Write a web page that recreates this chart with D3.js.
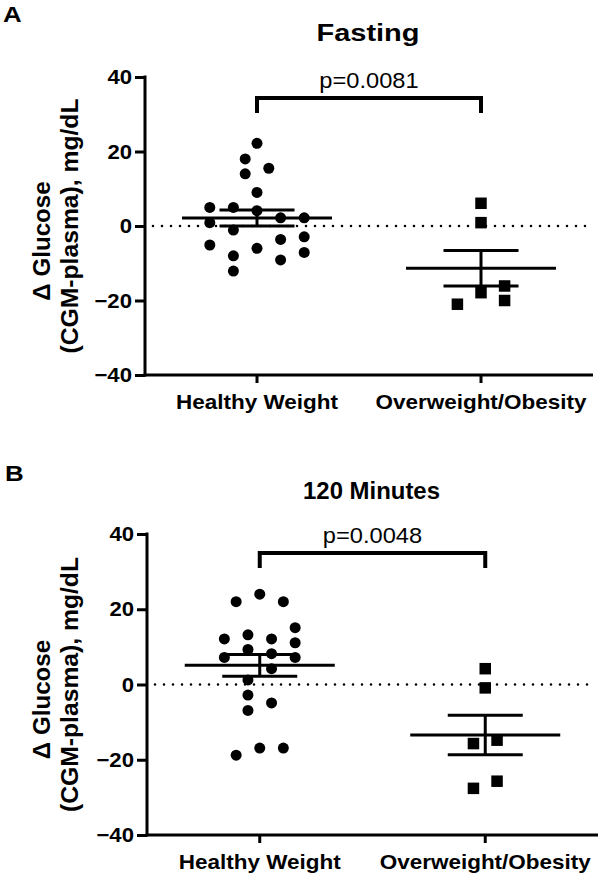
<!DOCTYPE html>
<html>
<head>
<meta charset="utf-8">
<script src="https://cdn.jsdelivr.net/npm/d3@7"></script>
<style>
  body { margin: 0; background: #fff; }
  svg { display: block; font-family: "Liberation Sans", Arial, sans-serif; }
</style>
</head>
<body>
<div class="container"></div>
<script>
// groups on the x axis
var groups = ["Healthy Weight", "Overweight/Obesity"];
var yTicks = [-40, -20, 0, 20, 40];

// panel A, fasting (values in mg/dL)
var fastHealthy = [22.2, 18, 15.5, 14, 9, 5, 5, 4.1, 2.2, 2.2, 0.9, -1.1, -5.1, -2.9, -3.6, -6, -7.1, -8, -9.1, -12.1];
var fastHealthySlot = [0, -1, 1, -1, 0, -4, -2, 0, 2, 4, -4, -2, -4, 4, 2, 0, 4, -2, 2, -2];
var fastOver = [6.1, 0.9, -17.9, -16.1, -20, -21];
var fastOverSlot = [0, 0, 0, 2, 2, -2];

// panel B, 120 minutes
var minHealthy = [22, 24, 22, 15.1, 12.1, 13.2, 12.1, 11.1, 9.3, 8.2, 7.2, 7.2, 4.2, 1.2, -2.8, -4.9, -6.9, -16.9, -16.9, -18.8];
var minHealthySlot = [-2, 0, 2, 3, -3, -1, 1, 3, -1, 1, -3, 3, 1, -1, -1, 1, -1, 0, 2, -2];
var minOver = [4.2, -0.9, -15.7, -14.8, -25.7, -27.6];
var minOverSlot = [0, 0, -1, 1, 1, -1];

var titles = ["Fasting", "120 Minutes"];
var pValues = ["p=0.0081", "p=0.0048"];
var panelLetters = ["A", "B"];

const WIDTH = 600;
const HEIGHT = 873;
const SLOT = 11.8;

var svg = d3.select('.container').append('svg')
  .attr('width', WIDTH)
  .attr('height', HEIGHT);

var translate = function(x, y){
  return "translate(" + x + "," + y + ")";
};

// the source figure's lettering is a bit wider than Arial, stretch it
var stretch = function(sel, k){
  sel.each(function(){
    var w = this.getComputedTextLength();
    d3.select(this).attr('textLength', w * k).attr('lengthAdjust', 'spacingAndGlyphs');
  });
};

var drawPanel = function(opt){
  var g = svg.append('g');

  var yScale = d3.scaleLinear().domain([-40, 40]).range([opt.bottom, opt.top]);
  var xScale = d3.scaleBand().domain(groups).range([opt.left, opt.right]);
  var cx = function(name){ return xScale(name) + xScale.bandwidth() / 2; };

  // y axis
  var yAxis = d3.axisLeft(yScale).tickValues(yTicks).tickSize(10).tickSizeOuter(0).tickPadding(3);
  var ya = g.append('g').attr('transform', translate(opt.left, 0)).call(yAxis);
  ya.select('.domain').attr('stroke-width', 3).attr('d', 'M0,' + (opt.bottom + 1.5) + 'V' + (opt.top - 1.5));
  ya.selectAll('.tick line').attr('stroke-width', 3);
  ya.selectAll('.tick text')
    .attr('font-size', 20.5).attr('font-weight', 'bold').attr('fill', '#000')
    .attr('font-family', '"Liberation Sans", Arial, sans-serif')
    .call(stretch, 1.08);

  // x axis
  var xAxis = d3.axisBottom(xScale).tickSize(8).tickSizeOuter(0);
  var xa = g.append('g').attr('transform', translate(0, opt.bottom)).call(xAxis);
  xa.select('.domain').attr('stroke-width', 3).attr('d', 'M' + (opt.left - 1.5) + ',0H' + opt.right);
  xa.selectAll('.tick line').attr('stroke-width', 3);
  xa.selectAll('.tick text')
    .attr('y', 34).attr('dy', 0)
    .attr('font-size', 21).attr('font-weight', 'bold').attr('fill', '#000')
    .attr('font-family', '"Liberation Sans", Arial, sans-serif')
    .call(stretch, 1.07);

  // zero reference line
  g.append('line')
    .attr('x1', opt.left + 8).attr('x2', opt.right - 4)
    .attr('y1', yScale(0)).attr('y2', yScale(0))
    .attr('stroke', '#000').attr('stroke-width', 2.6)
    .attr('stroke-linecap', 'round').attr('stroke-dasharray', '0,9');

  // points
  var healthy = opt.healthy.map(function(v, i){ return {v: v, s: opt.healthySlot[i]}; });
  var over = opt.over.map(function(v, i){ return {v: v, s: opt.overSlot[i]}; });

  g.selectAll('circle.pt').data(healthy).enter().append('circle')
    .attr('class', 'pt')
    .attr('cx', function(d){ return cx(groups[0]) + d.s * SLOT; })
    .attr('cy', function(d){ return yScale(d.v); })
    .attr('r', 5.5).attr('fill', '#000');

  var sq = 11.5;
  g.selectAll('rect.pt').data(over).enter().append('rect')
    .attr('class', 'pt')
    .attr('x', function(d){ return cx(groups[1]) + d.s * SLOT - sq / 2; })
    .attr('y', function(d){ return yScale(d.v) - sq / 2; })
    .attr('width', sq).attr('height', sq).attr('fill', '#000');

  // mean +/- SEM
  [opt.healthy, opt.over].forEach(function(vals, i){
    var m = d3.mean(vals);
    var sem = d3.deviation(vals) / Math.sqrt(vals.length);
    var x = cx(groups[i]);
    var lines = [
      [x - 75, m, x + 75, m],
      [x - 37.5, m + sem, x + 37.5, m + sem],
      [x - 37.5, m - sem, x + 37.5, m - sem],
      [x, m - sem, x, m + sem]
    ];
    g.selectAll(null).data(lines).enter().append('line')
      .attr('x1', function(d){ return d[0]; })
      .attr('x2', function(d){ return d[2]; })
      .attr('y1', function(d){ return yScale(d[1]); })
      .attr('y2', function(d){ return yScale(d[3]); })
      .attr('stroke', '#000').attr('stroke-width', 3);
  });

  // significance bracket
  var bx1 = cx(groups[0]), bx2 = cx(groups[1]);
  g.append('path')
    .attr('d', 'M' + bx1 + ',' + opt.bracketLeg + 'V' + opt.bracketY + 'H' + bx2 + 'V' + opt.bracketLeg)
    .attr('fill', 'none').attr('stroke', '#000').attr('stroke-width', 4);
  g.append('text')
    .attr('x', (bx1 + bx2) / 2).attr('y', opt.bracketY - 10)
    .attr('text-anchor', 'middle').attr('font-size', 21.5)
    .text(opt.p)
    .call(stretch, 1.1);

  // title
  g.append('text')
    .attr('x', (bx1 + bx2) / 2 - 1).attr('y', opt.titleY)
    .attr('text-anchor', 'middle').attr('font-size', 23).attr('font-weight', 'bold')
    .text(opt.title)
    .call(stretch, opt.titleStretch);

  // panel letter
  g.append('text')
    .attr('x', opt.letterX).attr('y', opt.letterY)
    .attr('font-size', 22.5).attr('font-weight', 'bold')
    .text(opt.letter)
    .call(stretch, 1.15);

  // y label, two lines
  var mid = yScale(0);
  g.append('text')
    .attr('transform', translate(50, mid + 15) + ' rotate(-90)')
    .attr('text-anchor', 'middle').attr('font-size', 23).attr('font-weight', 'bold')
    .text('\u0394 Glucose')
    .call(stretch, 1.05);
  g.append('text')
    .attr('transform', translate(78, mid) + ' rotate(-90)')
    .attr('text-anchor', 'middle').attr('font-size', 23.5).attr('font-weight', 'bold')
    .text('(CGM-plasma), mg/dL')
    .call(stretch, 1.05);
};

drawPanel({
  top: 77, bottom: 375, left: 145, right: 593,
  healthy: fastHealthy, healthySlot: fastHealthySlot,
  over: fastOver, overSlot: fastOverSlot,
  bracketY: 98, bracketLeg: 113, p: pValues[0],
  title: titles[0], titleY: 41, titleStretch: 1.26,
  letter: panelLetters[0], letterX: 3, letterY: 22
});

drawPanel({
  top: 534, bottom: 835, left: 147, right: 598,
  healthy: minHealthy, healthySlot: minHealthySlot,
  over: minOver, overSlot: minOverSlot,
  bracketY: 553, bracketLeg: 568, p: pValues[1],
  title: titles[1], titleY: 499, titleStretch: 1.04,
  letter: panelLetters[1], letterX: 5, letterY: 481
});
</script>
</body>
</html>
